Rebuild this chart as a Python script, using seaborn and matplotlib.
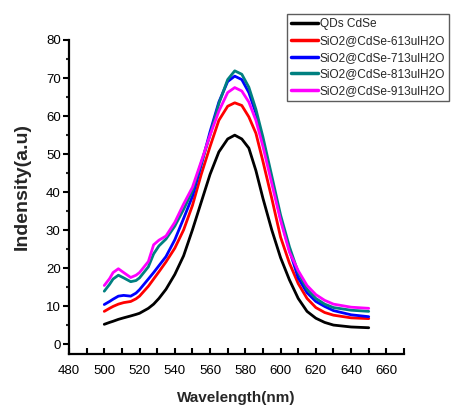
import pandas as pd
import seaborn as sns
import matplotlib.pyplot as plt
from matplotlib.ticker import MultipleLocator

# emission spectra
wavelength = [500, 503, 505, 508, 511, 515, 518, 520, 525, 528, 531, 535, 540, 545, 550,
              555, 560, 565, 570, 574, 578, 582, 586, 590, 595, 600, 605, 610, 615, 620,
              625, 630, 640, 650]
qds_cdse = [5.3, 5.8, 6.1, 6.6, 7.0, 7.5, 7.9, 8.2, 9.5, 10.6, 12.1, 14.5, 18.4, 23.3, 30.1,
            37.4, 44.7, 50.6, 54.0, 55.0, 54.0, 51.6, 45.7, 38.4, 30.1, 22.8, 17.0, 12.1, 8.7, 6.9,
            5.8, 5.1, 4.6, 4.4]
sio2_613 = [8.7, 9.5, 10.0, 10.6, 11.0, 11.3, 12.0, 12.7, 15.3, 17.2, 19.1, 21.7, 25.3, 30.1, 36.5,
            44.7, 52.0, 58.9, 62.6, 63.5, 62.8, 59.8, 55.5, 48.1, 38.4, 28.2, 21.4, 16.0, 12.1, 9.7,
            8.4, 7.7, 7.0, 6.8]
sio2_713 = [10.5, 11.3, 11.9, 12.7, 12.9, 12.7, 13.5, 14.4, 17.2, 18.9, 20.7, 23.1, 27.5, 33.1, 38.9,
            47.2, 55.9, 63.7, 69.1, 70.5, 69.6, 66.2, 60.8, 53.5, 43.3, 33.1, 24.8, 17.5, 13.6, 11.3,
            10.0, 8.9, 7.8, 7.3]
sio2_813 = [14.0, 15.8, 17.2, 18.2, 17.5, 16.5, 16.8, 17.5, 20.4, 23.8, 25.9, 27.7, 31.1, 35.5, 40.4,
            47.7, 55.0, 63.3, 69.6, 71.9, 71.0, 67.6, 61.8, 54.5, 44.3, 34.0, 25.7, 18.9, 14.5, 12.1,
            10.6, 9.7, 9.0, 8.7]
sio2_913 = [15.5, 17.3, 18.9, 19.9, 18.9, 17.6, 18.2, 18.9, 21.8, 26.2, 27.4, 28.5, 32.1, 36.9, 41.3,
            48.1, 55.0, 61.3, 66.2, 67.5, 66.6, 63.7, 58.9, 52.0, 42.3, 32.6, 24.3, 19.4, 15.5, 13.1,
            11.6, 10.6, 9.8, 9.5]

labels = ['QDs CdSe', 'SiO2@CdSe-613ulH2O', 'SiO2@CdSe-713ulH2O',
          'SiO2@CdSe-813ulH2O', 'SiO2@CdSe-913ulH2O']
colors = ['#000000', '#ff0000', '#0000ff', '#008080', '#ff00ff']
series = [qds_cdse, sio2_613, sio2_713, sio2_813, sio2_913]

frames = []
for lab, vals in zip(labels, series):
    frames.append(pd.DataFrame({'Wavelength': wavelength, 'Intensity': vals, 'Sample': lab}))
df = pd.concat(frames, ignore_index=True)

sns.set_style('ticks')
plt.rcParams['font.family'] = ['Liberation Sans', 'DejaVu Sans']

fig = plt.figure(figsize=(4.51, 4.07), dpi=100)
ax = fig.add_axes([69/451, 53/407, 335/451, 314/407])

sns.lineplot(data=df, x='Wavelength', y='Intensity', hue='Sample', hue_order=labels,
             palette=colors, linewidth=2, ax=ax)

ax.set_xlim(480, 670)
ax.set_ylim(-2.5, 80)
ax.xaxis.set_major_locator(MultipleLocator(20))
ax.xaxis.set_minor_locator(MultipleLocator(10))
ax.yaxis.set_major_locator(MultipleLocator(10))
ax.yaxis.set_minor_locator(MultipleLocator(5))
ax.set_xticks(range(480, 661, 20))

sns.despine(ax=ax)
for s in ['left', 'bottom']:
    ax.spines[s].set_linewidth(1.6)
    ax.spines[s].set_color('black')

ax.tick_params(axis='x', which='both', direction='in', length=4, width=1.5, pad=8,
               labelsize=9.5, colors='black')
ax.tick_params(axis='y', which='major', direction='out', length=4, width=1.5, pad=2,
               labelsize=9.5, colors='black')
ax.tick_params(axis='y', which='minor', direction='out', length=2.5, width=1.5)

ax.set_xlabel('Wavelength(nm)', fontsize=11, fontweight='bold', labelpad=10)
ax.set_ylabel('Indensity(a.u)', fontsize=14, fontweight='bold')
ax.yaxis.set_label_coords(-0.115, 0.535)

handles, lbls = ax.get_legend_handles_labels()
for h in handles:
    h.set_linewidth(2.5)
leg = ax.legend(handles, lbls, loc='upper left', bbox_to_anchor=(287/451, 1 - 14/407),
                bbox_transform=fig.transFigure, fontsize=8.6, frameon=True, fancybox=False,
                borderpad=0.35, handlelength=2.25, handletextpad=0.15, labelspacing=0.4,
                borderaxespad=0)
leg.get_frame().set_edgecolor('#333333')
leg.get_frame().set_linewidth(1)

fig.savefig('out.png', dpi=100)
